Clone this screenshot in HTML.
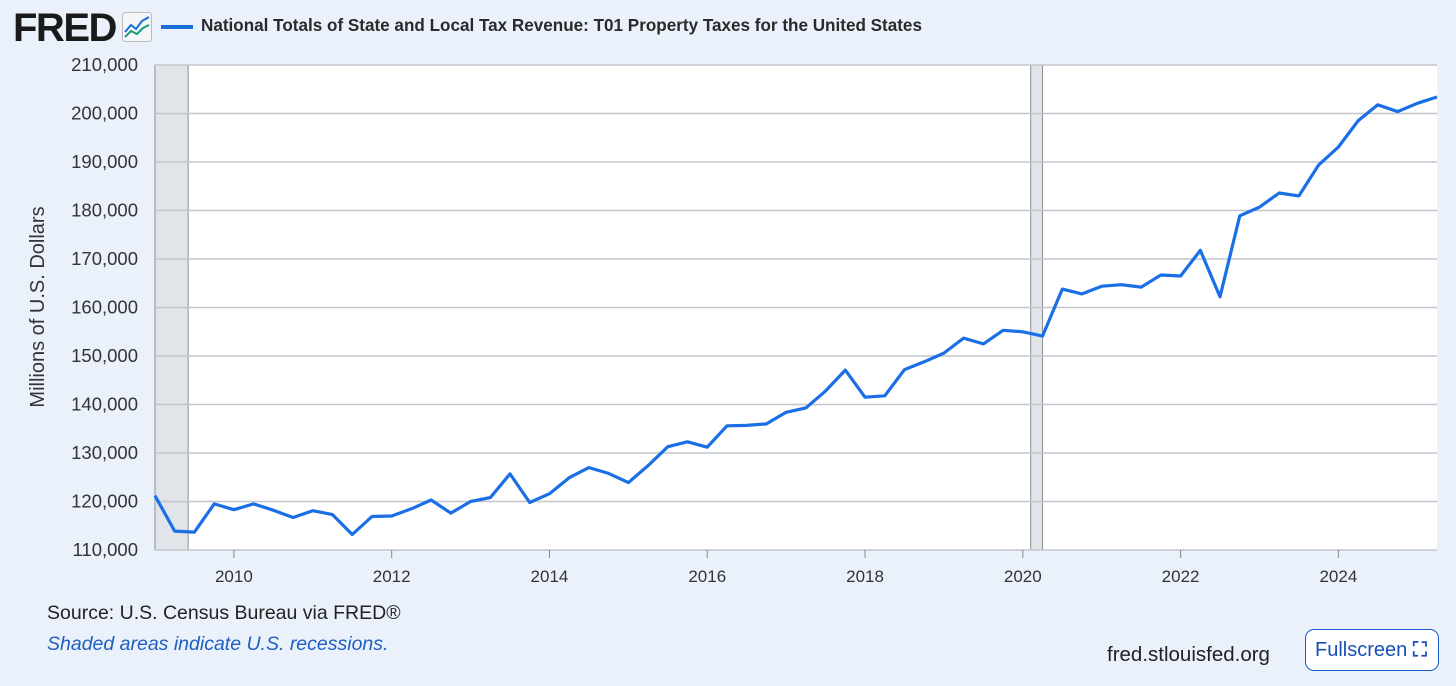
<!DOCTYPE html>
<html><head><meta charset="utf-8"><style>
html,body{margin:0;padding:0;}
body{width:1456px;height:686px;background:#eaf1fb;font-family:"Liberation Sans",sans-serif;position:relative;overflow:hidden;}
.abs{position:absolute;}
</style></head><body>
<div class="abs" style="left:13px;top:6px;font-size:40px;font-weight:bold;color:#1a1a1a;letter-spacing:-1.5px;">FRED</div>
<svg class="abs" style="left:122px;top:12px" width="30" height="30"><rect x="0.5" y="0.5" width="29" height="29" rx="3" fill="#f4f6f8" stroke="#bbb"/><polyline points="3,20 9,13 14,17 20,9 27,5" fill="none" stroke="#1a6fd6" stroke-width="2"/><polyline points="3,25 9,19 15,22 21,16 27,13" fill="none" stroke="#1a9a7a" stroke-width="2"/></svg>
<div class="abs" style="left:161px;top:25px;width:32px;height:4px;background:#1a6fd6"></div>
<div class="abs" style="left:201px;top:16px;font-size:17.1px;font-weight:bold;color:#2a2a2a;">National Totals of State and Local Tax Revenue: T01 Property Taxes for the United States</div>
<svg class="abs" id="chart" style="left:0;top:0" width="1456" height="600"></svg>
<div class="abs" style="left:47px;top:602px;font-size:19.5px;color:#222;">Source: U.S. Census Bureau via FRED®</div>
<div class="abs" style="left:47px;top:633px;font-size:19.5px;font-style:italic;color:#1f5fbf;">Shaded areas indicate U.S. recessions.</div>
<div class="abs" style="left:1107px;top:643px;font-size:20.5px;color:#222;">fred.stlouisfed.org</div>
<div class="abs" style="left:1305px;top:629px;width:134px;height:42px;box-sizing:border-box;border:1.5px solid #1a5fd0;border-radius:9px;background:#fff;color:#1a4fb8;font-size:20px;line-height:40px;padding-left:9px;">Fullscreen <span style="font-weight:bold;letter-spacing:1px">⛶</span></div>
<script>
const yTicks=[110000,120000,130000,140000,150000,160000,170000,180000,190000,200000,210000];
const xTicks=[2010,2012,2014,2016,2018,2020,2022,2024];
const startYear=2009.0;
const values=[121200,113900,113700,119500,118300,119500,118200,116700,118100,117300,113200,116900,117000,118500,120300,117600,120000,120800,125700,119800,121600,124900,127000,125800,123900,127400,131300,132300,131200,135600,135700,136000,138400,139300,142800,147100,141500,141800,147200,148800,150600,153700,152500,155300,155000,154100,163800,162800,164400,164700,164200,166700,166500,171800,162200,178900,180700,183600,183000,189400,193100,198500,201800,200400,202100,203400];
const recessions=[[2009.0,2009.42],[2020.1,2020.25]];
const L=155,R=1437,T=65,B=550;
const x0=2009.0,x1=2025.25;
const sx=v=>L+(v-x0)/(x1-x0)*(R-L);
const sy=v=>B-(v-110000)/(210000-110000)*(B-T);
const svg=document.getElementById('chart');
const NS='http://www.w3.org/2000/svg';
function mk(tag,attrs){const e=document.createElementNS(NS,tag);for(const k in attrs)e.setAttribute(k,attrs[k]);svg.appendChild(e);return e;}
let bg=mk('rect',{x:L,y:T,width:R-L,height:B-T,fill:'#fff'});


recessions.forEach(r=>{const e=mk('rect',{x:sx(r[0]),y:T,width:sx(r[1])-sx(r[0]),height:B-T,fill:'#e1e5ea',stroke:'#8a8f96','stroke-width':1});

});
yTicks.forEach(v=>{const g=mk('line',{x1:L,x2:R,y1:sy(v),y2:sy(v),stroke:'#c2c6cc','stroke-width':1.5});


const t=mk('text',{x:L-17,y:sy(v)+6,'text-anchor':'end','font-size':18.5,fill:'#333','font-family':'Liberation Sans'});t.textContent=v.toLocaleString('en-US');

});
xTicks.forEach(v=>{const x=sx(v);const k=mk('line',{x1:x,x2:x,y1:B,y2:B+8,stroke:'#888','stroke-width':1});


const t=mk('text',{x:x,y:B+32,'text-anchor':'middle','font-size':17,fill:'#333','font-family':'Liberation Sans'});t.textContent=v;

});
const yt=mk('text',{x:0,y:0,transform:'translate(44,307) rotate(-90)','text-anchor':'middle','font-size':20,fill:'#333','font-family':'Liberation Sans'});yt.textContent='Millions of U.S. Dollars';


const pts=values.map((v,i)=>sx(startYear+i*0.25).toFixed(1)+','+sy(v).toFixed(1)).join(' ');
const line=mk('polyline',{points:pts,fill:'none',stroke:'#1a6fe6','stroke-width':3.2,'stroke-linejoin':'round'});


</script>
</body></html>
